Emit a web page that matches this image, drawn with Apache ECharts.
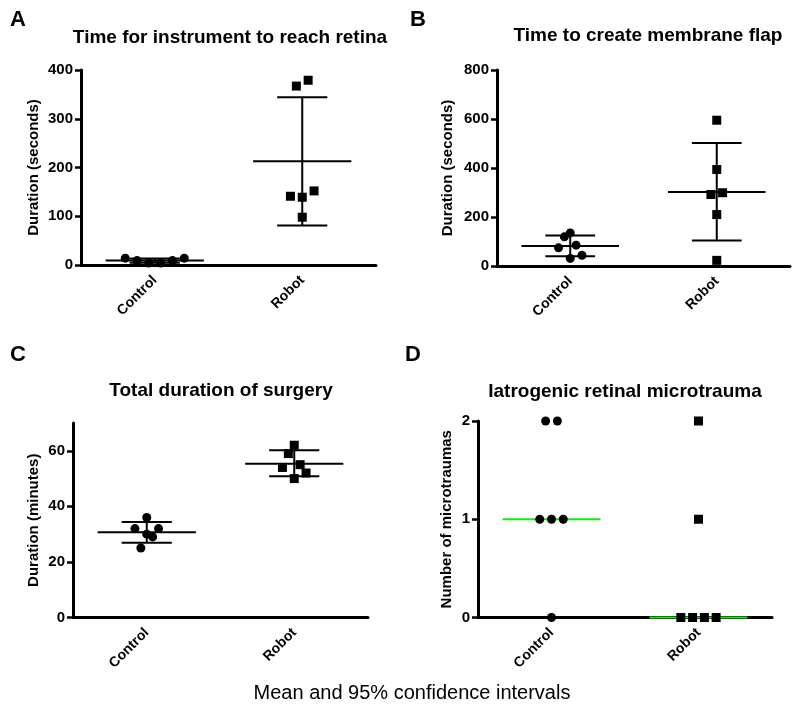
<!DOCTYPE html>
<html>
<head>
<meta charset="utf-8">
<script src="https://cdn.jsdelivr.net/npm/echarts@6/dist/echarts.min.js"></script>
<style>html,body{margin:0;padding:0;background:#fff}#c{width:800px;height:719px}</style>
</head>
<body>
<div id="c"></div>
<script>
// ---------- data ----------
const categories = ['Control', 'Robot'];

// Panel A: Time for instrument to reach retina (seconds)
const aControl = [14, 9, 4, 4, 9, 14];
const aControlJitter = [-0.2, -0.12, -0.04, 0.04, 0.12, 0.2];
const aRobot = [367, 379, 141, 139, 152, 98];
const aRobotJitter = [-0.04, 0.04, -0.08, 0, 0.08, 0];
const aMean = [9, 213];
const aLow = [4.5, 81];
const aHigh = [13.5, 344];

// Panel B: Time to create membrane flap (seconds)
const bControl = [135, 119, 74, 85, 44, 31];
const bControlJitter = [0, -0.04, -0.08, 0.04, 0.08, 0];
const bRobot = [595, 394, 292, 299, 210, 23];
const bRobotJitter = [0, 0, -0.04, 0.04, 0, 0];
const bMean = [82, 302];
const bLow = [40, 104];
const bHigh = [124, 502];

// Panel C: Total duration of surgery (minutes)
const cControl = [36, 32, 32, 30, 29, 25];
const cControlJitter = [0, -0.08, 0.08, 0, 0.04, -0.04];
const cRobot = [62, 59, 54, 55, 52, 50];
const cRobotJitter = [0, -0.04, -0.08, 0.04, 0.08, 0];
const cMean = [30.7, 55.3];
const cLow = [26.9, 50.8];
const cHigh = [34.4, 60.2];

// Panel D: Iatrogenic retinal microtrauma (count)
const dControl = [2, 2, 1, 1, 1, 0];
const dControlJitter = [-0.04, 0.04, -0.08, 0, 0.08, 0];
const dRobot = [2, 1, 0, 0, 0, 0];
const dRobotJitter = [0, 0, -0.12, -0.04, 0.04, 0.12];
const dMedian = [1, 0];

const panelTitles = ['Time for instrument to reach retina', 'Time to create membrane flap', 'Total duration of surgery', 'Iatrogenic retinal microtrauma'];
const panelLetters = ['A', 'B', 'C', 'D'];
const yNames = ['Duration (seconds)', 'Duration (seconds)', 'Duration (minutes)', 'Number of microtraumas'];
const yTicksA = [0, 100, 200, 300, 400];
const yTicksB = [0, 200, 400, 600, 800];
const yTicksC = [0, 20, 40, 60];
const yTicksD = [0, 1, 2];
const footer = 'Mean and 95% confidence intervals';

// ---------- layout ----------
const FONT = 'Liberation Sans, Arial, sans-serif';
const grids = [
  {left: 81, top: 70, width: 295, height: 195},
  {left: 497, top: 70, width: 293, height: 196},
  {left: 73, top: 423, width: 295, height: 194.5},
  {left: 478, top: 421, width: 294, height: 196.5}
];
const yCfg = [
  {min: 0, max: 400, ticks: yTicksA, nameGap: 40},
  {min: 0, max: 800, ticks: yTicksB, nameGap: 42},
  {min: 0, max: 70, ticks: yTicksC, nameGap: 32},
  {min: 0, max: 2, ticks: yTicksD, nameGap: 24}
];
const titlePos = [[230, 38], [648, 36], [221, 391], [625, 392]];
const letterPos = [[10, 20], [410, 20], [10, 355], [405, 355]];

const BLACK = '#000';
const xAxes = [], yAxes = [];
grids.forEach((g, i) => {
  xAxes.push({
    type: 'category', gridIndex: i, data: categories, boundaryGap: true,
    axisLine: {lineStyle: {color: BLACK, width: 3}},
    axisTick: {alignWithLabel: true, length: 6, lineStyle: {color: BLACK, width: 2.5}},
    axisLabel: {rotate: 45, margin: 13, color: BLACK, fontFamily: FONT, fontWeight: 'bold', fontSize: 14},
    splitLine: {show: false}
  });
  xAxes.push({type: 'value', gridIndex: i, min: 0, max: 2, show: false});
  const c = yCfg[i];
  yAxes.push({
    type: 'value', gridIndex: i, min: c.min, max: c.max,
    name: yNames[i], nameLocation: 'middle', nameGap: c.nameGap, nameRotate: 90,
    nameTextStyle: {color: BLACK, fontFamily: FONT, fontWeight: 'bold', fontSize: 15},
    axisLine: {show: true, lineStyle: {color: BLACK, width: 3}},
    axisTick: {show: true, length: 6, customValues: c.ticks, lineStyle: {color: BLACK, width: 2.5}},
    axisLabel: {customValues: c.ticks, margin: 8, color: BLACK, fontFamily: FONT, fontWeight: 'bold', fontSize: 15},
    splitLine: {show: false}
  });
});

function pts(vals, jit, center) {
  return vals.map((v, k) => [center + jit[k], v]);
}

const MEAN_HW = 0.333, CAP_HW = 0.17;
function errRender(params, api) {
  const x = api.value(0), m = api.value(1), lo = api.value(2), hi = api.value(3);
  const st = {stroke: BLACK, lineWidth: 2};
  const seg = (a, b) => {
    const p1 = api.coord(a), p2 = api.coord(b);
    return {type: 'line', shape: {x1: p1[0], y1: p1[1], x2: p2[0], y2: p2[1]}, style: st};
  };
  return {type: 'group', children: [
    seg([x - MEAN_HW, m], [x + MEAN_HW, m]),
    seg([x, lo], [x, hi]),
    seg([x - CAP_HW, lo], [x + CAP_HW, lo]),
    seg([x - CAP_HW, hi], [x + CAP_HW, hi])
  ]};
}
function medRender(params, api) {
  const x = api.value(0), m = api.value(1);
  const p1 = api.coord([x - MEAN_HW, m]), p2 = api.coord([x + MEAN_HW, m]);
  return {type: 'line', shape: {x1: p1[0], y1: p1[1], x2: p2[0], y2: p2[1]}, style: {stroke: '#11ee11', lineWidth: 2}};
}

const series = [];
const panels = [
  {c: aControl, cj: aControlJitter, r: aRobot, rj: aRobotJitter, mean: aMean, lo: aLow, hi: aHigh},
  {c: bControl, cj: bControlJitter, r: bRobot, rj: bRobotJitter, mean: bMean, lo: bLow, hi: bHigh},
  {c: cControl, cj: cControlJitter, r: cRobot, rj: cRobotJitter, mean: cMean, lo: cLow, hi: cHigh},
  {c: dControl, cj: dControlJitter, r: dRobot, rj: dRobotJitter, median: dMedian}
];
panels.forEach((p, i) => {
  const xi = i * 2 + 1;
  if (p.mean) {
    series.push({type: 'custom', xAxisIndex: xi, yAxisIndex: i, renderItem: errRender, z: 3, silent: true,
      data: p.mean.map((m, k) => [k + 0.5, m, p.lo[k], p.hi[k]])});
  } else {
    series.push({type: 'custom', xAxisIndex: xi, yAxisIndex: i, renderItem: medRender, z: 3, silent: true,
      data: p.median.map((m, k) => [k + 0.5, m])});
  }
  series.push({type: 'scatter', xAxisIndex: xi, yAxisIndex: i, symbol: 'circle', symbolSize: 9, z: 4,
    itemStyle: {color: BLACK, opacity: 1}, data: pts(p.c, p.cj, 0.5)});
  series.push({type: 'scatter', xAxisIndex: xi, yAxisIndex: i, symbol: 'rect', symbolSize: 9, z: 4,
    itemStyle: {color: BLACK, opacity: 1}, data: pts(p.r, p.rj, 1.5)});
});

const graphic = [];
panelTitles.forEach((t, i) => {
  graphic.push({type: 'text', x: titlePos[i][0], y: titlePos[i][1],
    style: {text: t, fill: BLACK, font: 'bold 19px ' + FONT, textAlign: 'center', textVerticalAlign: 'middle'}});
  graphic.push({type: 'text', x: letterPos[i][0], y: letterPos[i][1],
    style: {text: panelLetters[i], fill: BLACK, font: 'bold 22px ' + FONT, textAlign: 'left', textVerticalAlign: 'middle'}});
});
graphic.push({type: 'text', x: 412, y: 693,
  style: {text: footer, fill: BLACK, font: '20px ' + FONT, textAlign: 'center', textVerticalAlign: 'middle'}});

const chart = echarts.init(document.getElementById('c'), null, {renderer: 'canvas'});
chart.setOption({
  animation: false,
  backgroundColor: '#fff',
  grid: grids.map(g => Object.assign({containLabel: false}, g)),
  xAxis: xAxes,
  yAxis: yAxes,
  series: series,
  graphic: graphic
});
</script>
</body>
</html>
